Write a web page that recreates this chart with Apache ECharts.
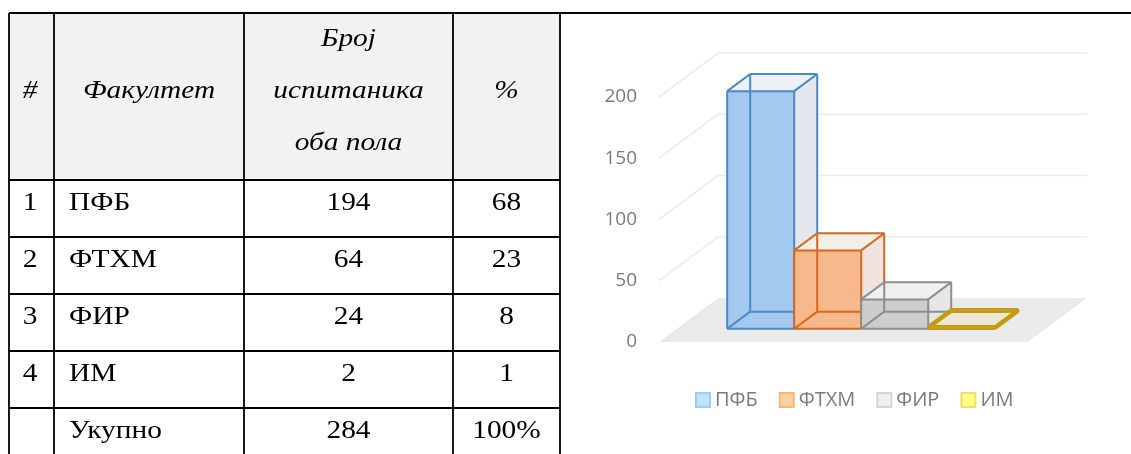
<!DOCTYPE html>
<html>
<head>
<meta charset="utf-8">
<script src="https://cdn.jsdelivr.net/npm/echarts@6/dist/echarts.min.js"></script>
<style>
  html, body { margin: 0; padding: 0; background: #fff; }
  #chart-container { width: 1131px; height: 454px; }
</style>
</head>
<body>
<div id="chart-container"></div>
<script>
// табела
var headerLabels = ['#', 'Факултет', ['Број', 'испитаника', 'оба пола'], '%'];
var rowNumbers = ['1', '2', '3', '4', ''];
var faculties = ['ПФБ', 'ФТХМ', 'ФИР', 'ИМ'];
var counts = [194, 64, 24, 2];
var percents = ['68', '23', '8', '1'];
var totalRow = ['Укупно', '284', '100%'];

// графикон
var yTicks = [0, 50, 100, 150, 200];

// боје стубова: лице, бок, врх, ивица
var barColors = [
    { front: '#a3c9ee', side: '#e3e8ee', top: '#edf1f5', edge: '#4a89c9' },
    { front: '#f7b98c', side: '#efe4de', top: '#f4eee9', edge: '#d4681f' },
    { front: '#cdcdcd', side: '#e6e6e6', top: '#f0f0f0', edge: '#8d8d8d' },
    { front: '#e8e2c8', side: '#ebe6d6', top: '#ebe6d8', edge: '#c49b10' }
];
var legendColors = [
    { color: '#bde3fb', borderColor: '#9ccdf2' },
    { color: '#fbd0a2', borderColor: '#f7b77c' },
    { color: '#efefef', borderColor: '#d6d6d6' },
    { color: '#ffff84', borderColor: '#f5d870' }
];

var container = document.getElementById('chart-container');
var myChart = echarts.init(container);

// перспектива (дубина) пода и зидова
var DX = 59, DY = -44;
var F1 = 0.30, F2 = 0.69; // предња и задња страна стуба у дубини
var BAR_W = 0.1816;       // ширина стуба као део категорије

var colX = [9, 54, 244, 453, 560];
var rowY = [13, 180, 237, 294, 351, 408, 465];
var serif = '"Liberation Serif", "Times New Roman", serif';
var STRETCH = 1.13; // текст у табели је мало шири од обичног Times-а

function tableText(t, x, y, font, align) {
    return {
        type: 'text', silent: true,
        x: x, y: y, scaleX: STRETCH,
        style: { text: t, x: 0, y: 0, font: font, fill: '#000', align: align, verticalAlign: 'middle' }
    };
}

function buildTable() {
    var els = [];
    els.push({
        type: 'rect', silent: true,
        shape: { x: colX[0], y: rowY[0], width: colX[4] - colX[0], height: rowY[1] - rowY[0] },
        style: { fill: '#f2f2f2' }
    });

    // заглавље
    var headFont = 'italic 26px ' + serif;
    headerLabels.forEach(function (lbl, c) {
        var cx = (colX[c] + colX[c + 1]) / 2;
        if (c === 0) cx = 30;
        if (c === 1) cx = colX[1] + 95;
        var lines = Array.isArray(lbl) ? lbl : [lbl];
        lines.forEach(function (t, k) {
            var y = lines.length === 1 ? 91 : 39 + k * 52;
            els.push(tableText(t, cx, y, headFont, 'center'));
        });
    });

    // редови
    var bodyFont = '26px ' + serif;
    var rows = faculties.map(function (f, i) {
        return [rowNumbers[i], f, String(counts[i]), percents[i]];
    });
    rows.push([rowNumbers[4]].concat(totalRow));
    rows.forEach(function (r, ri) {
        var y = rowY[ri + 1] + 23;
        r.forEach(function (t, c) {
            if (c === 1) els.push(tableText(t, colX[1] + 15, y, bodyFont, 'left'));
            else if (c === 0) els.push(tableText(t, 30, y, bodyFont, 'center'));
            else els.push(tableText(t, (colX[c] + colX[c + 1]) / 2, y, bodyFont, 'center'));
        });
    });

    // линије
    var ls = { stroke: '#000', lineWidth: 1.8 };
    els.push({ type: 'line', silent: true, shape: { x1: colX[0], y1: rowY[0], x2: 1131, y2: rowY[0] }, style: ls });
    for (var k = 1; k < rowY.length - 1; k++) {
        els.push({ type: 'line', silent: true, shape: { x1: colX[0], y1: rowY[k], x2: colX[4], y2: rowY[k] }, style: ls });
    }
    colX.forEach(function (x) {
        els.push({ type: 'line', silent: true, shape: { x1: x, y1: rowY[0], x2: x, y2: 454 }, style: ls });
    });
    return els;
}

// под и линије мреже у перспективи
function renderWalls(params, api) {
    var cs = params.coordSys;
    var y = api.coord([0, api.value(1)])[1];
    var x0 = cs.x, x1 = cs.x + cs.width;
    if (api.value(1) === 0) {
        return {
            type: 'polygon', silent: true,
            shape: { points: [[x0, y], [x0 + DX, y + DY], [x1 + DX, y + DY], [x1, y]] },
            style: { fill: '#eaeaea', stroke: null }
        };
    }
    return {
        type: 'polyline', silent: true,
        shape: { points: [[x0, y], [x0 + DX, y + DY], [x1 + DX, y + DY]] },
        style: { stroke: '#ececec', lineWidth: 1.6, fill: null }
    };
}

function makeBarRenderer(i) {
    return function (params, api) {
        var c = barColors[i];
        var band = api.size([1, 0])[0];
        var w = band * BAR_W;
        var cx = api.coord([0, 0])[0];
        var left = cx + (i - 2) * w;
        var yb = api.coord([0, 0])[1];
        var yt = api.coord([0, api.value(1)])[1];
        var fx = DX * F1, fy = DY * F1, bx = DX * F2, by = DY * F2;
        // врхови
        var FLT = [left + fx, yt + fy], FRT = [left + w + fx, yt + fy];
        var FLB = [left + fx, yb + fy], FRB = [left + w + fx, yb + fy];
        var BLT = [left + bx, yt + by], BRT = [left + w + bx, yt + by];
        var BLB = [left + bx, yb + by], BRB = [left + w + bx, yb + by];
        var es = { stroke: c.edge, lineWidth: i === 3 ? 2.6 : 2, fill: null, lineJoin: 'round' };
        var edges = [
            [BLB, BRB], [BLB, BLT], [BLB, FLB],
            [FLT, FRT], [FRT, FRB], [FRB, FLB], [FLB, FLT],
            [BLT, BRT], [BRT, BRB],
            [FLT, BLT], [FRT, BRT], [FRB, BRB]
        ];
        var children = [
            { type: 'polygon', shape: { points: [FRT, BRT, BRB, FRB] }, style: { fill: c.side } },
            { type: 'polygon', shape: { points: [FLT, FRT, BRT, BLT] }, style: { fill: c.top } },
            { type: 'polygon', shape: { points: [FLT, FRT, FRB, FLB] }, style: { fill: c.front } }
        ];
        edges.forEach(function (e) {
            children.push({ type: 'line', shape: { x1: e[0][0], y1: e[0][1], x2: e[1][0], y2: e[1][1] }, style: es });
        });
        return { type: 'group', children: children };
    };
}

var series = [{
    name: 'walls',
    type: 'custom',
    z: 1,
    silent: true,
    renderItem: renderWalls,
    data: yTicks.map(function (t) { return [0, t]; })
}];
faculties.forEach(function (name, i) {
    series.push({
        name: name,
        type: 'custom',
        z: 2 + i,
        renderItem: makeBarRenderer(i),
        itemStyle: { color: legendColors[i].color },
        data: [[0, counts[i]]]
    });
});

myChart.setOption({
    animation: false,
    graphic: buildTable(),
    grid: { left: 659, right: 103, top: 97, bottom: 112 },
    xAxis: {
        type: 'category',
        data: [''],
        show: false
    },
    yAxis: {
        type: 'value',
        min: 0,
        max: 200,
        interval: 50,
        axisLine: { show: false },
        axisTick: { show: false },
        splitLine: { show: false },
        axisLabel: { color: '#7a7a7a', fontSize: 19, fontFamily: '"Open Sans", sans-serif', margin: 22 }
    },
    legend: {
        left: 695,
        top: 390,
        padding: 0,
        itemWidth: 14,
        itemHeight: 14,
        itemGap: 21,
        icon: 'rect',
        textStyle: { color: '#7a7a7a', fontSize: 20, fontFamily: '"Open Sans", sans-serif' },
        data: faculties.map(function (name, i) {
            return {
                name: name,
                itemStyle: { color: legendColors[i].color, borderColor: legendColors[i].borderColor, borderWidth: 2 }
            };
        })
    },
    series: series
});
</script>
</body>
</html>
